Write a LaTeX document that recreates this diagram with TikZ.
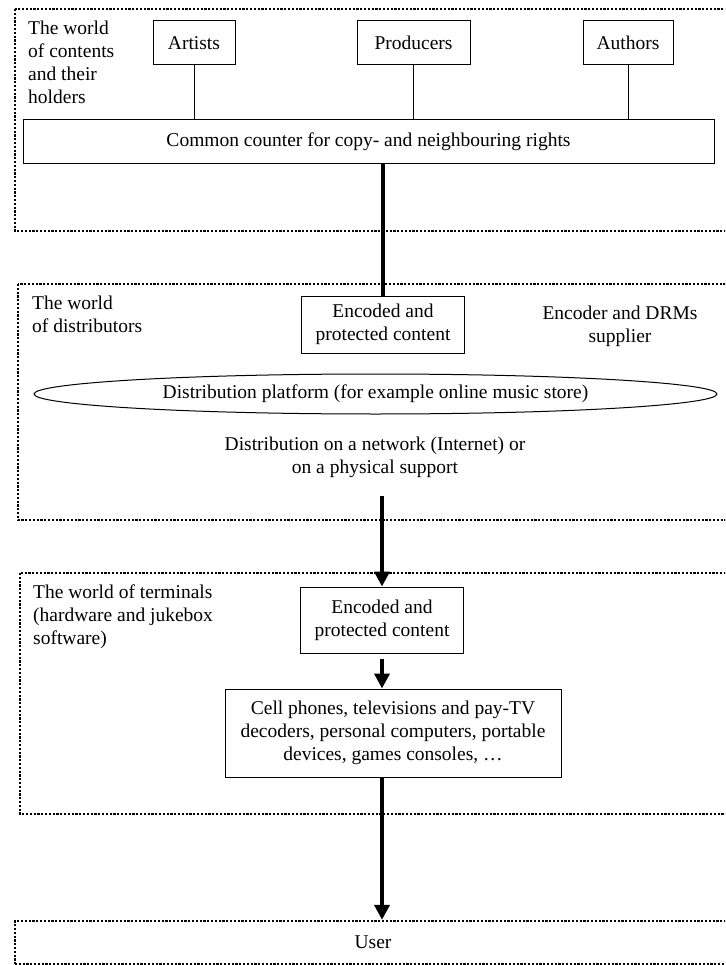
\documentclass[tikz,border=0pt]{standalone}
\usepackage{fontspec}
\setmainfont{Liberation Serif}
\usetikzlibrary{calc,shapes.geometric,arrows.meta}
\tikzset{>={Triangle[length=15pt,width=15pt]}}
\tikzset{
  holder/.style={draw,line width=1pt,minimum height=44pt,inner sep=2pt},
  encbox/.style={draw,line width=1pt,align=center,minimum width=163pt},
  world/.style={line width=2.4pt,dash pattern=on 2.2pt off 1.6pt},
  worldlabel/.style={anchor=north west,align=left,inner sep=0pt},
  flow/.style={line width=4.4pt},
}

\begin{document}
\begin{tikzpicture}[x=1pt,y=-1pt,font=\fontsize{19.5}{23}\selectfont]
  \useasboundingbox (0,0) rectangle (725,965);
  \clip (0,0) rectangle (725,965);
  % the three worlds
  \draw[world] (15,9) rectangle (740,231);
  \draw[world] (18,284) rectangle (740,520);
  \draw[world] (20,573) rectangle (740,814);
  \node[worldlabel] (contentsworld) at (28,21) {The world\\of contents\\and their\\holders};
  \node[worldlabel] (distribworld) at (32,296) {The world\\of distributors};
  \node[worldlabel] (terminalworld) at (33,585) {The world of terminals\\(hardware and jukebox\\software)};
  % holders
  \node[holder,minimum width=82pt] (artists) at (194,43) {Artists};
  \node[holder,minimum width=113pt] (producers) at (413.5,43) {Producers};
  \node[holder,minimum width=90pt] (authors) at (628,43) {Authors};
  \node[holder,minimum width=691pt] (counter) at (368.5,142) {Common counter for copy- and neighbouring rights};
  \foreach \n in {artists,producers,authors}
    \draw[line width=1pt] (\n.south) -- (\n.south |- counter.north);
  % distributors
  \node[encbox,minimum height=57pt] (content) at (383,324.5) {Encoded and\\protected content};
  \node[align=center] (supplier) at (620,326) {Encoder and DRMs\\supplier};
  \node[draw,ellipse,line width=1pt,minimum width=683pt,minimum height=40pt,inner sep=0pt] (platform) at (375.5,394) {Distribution platform (for example online music store)};
  \node[align=center] (network) at (375,457) {Distribution on a network (Internet) or\\on a physical support};
  \coordinate (netout) at (382,496);
  % terminals
  \node[encbox,minimum height=66pt] (termcontent) at (382,620) {Encoded and\\protected content};
  \node[holder,align=center,minimum width=336pt,minimum height=88pt] (devices) at (393,733) {Cell phones, televisions and pay-TV\\decoders, personal computers, portable\\devices, games consoles, …};
  \node[world,draw,minimum width=716pt,minimum height=43pt] (user) at (373,942.5) {User};
  % flows
  \draw[flow] (content.north |- counter.south) -- (content.north);
  \draw[flow,->] (netout) -- (termcontent.north);
  \draw[flow,->,shorten <=5pt] (termcontent.south) -- (devices.north -| termcontent.south);
  \draw[flow,->] (devices.south -| termcontent.south) -- (user.north -| termcontent.south);
\end{tikzpicture}
\end{document}
